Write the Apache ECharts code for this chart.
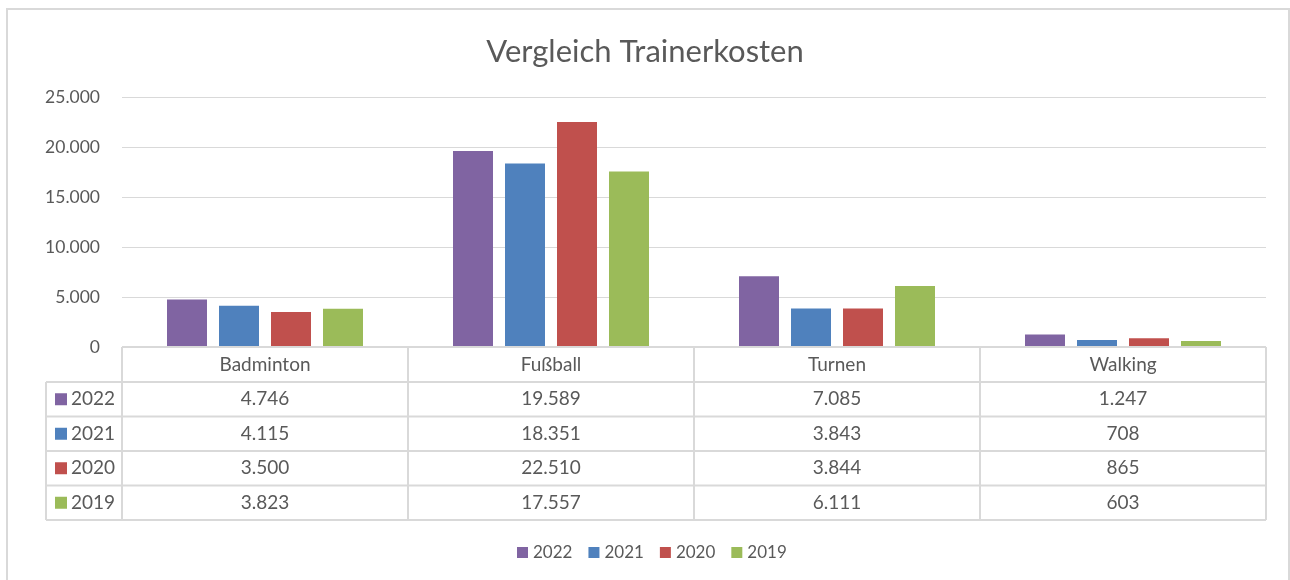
<!DOCTYPE html>
<html>
<head>
<meta charset="utf-8">
<script src="https://cdn.jsdelivr.net/npm/echarts@6/dist/echarts.min.js"></script>
<style>
  html, body { margin: 0; padding: 0; background: #fff; }
  #chart { width: 1290px; height: 580px; }
</style>
</head>
<body>
<div id="chart"></div>
<script>
// Daten
const categories = ['Badminton', 'Fußball', 'Turnen', 'Walking'];
const years = ['2022', '2021', '2020', '2019'];
const v2022 = [4746, 19589, 7085, 1247];
const v2021 = [4115, 18351, 3843, 708];
const v2020 = [3500, 22510, 3844, 865];
const v2019 = [3823, 17557, 6111, 603];
const yTicks = [0, 5000, 10000, 15000, 20000, 25000];

const colors = ['#8064A2', '#4F81BD', '#C0504D', '#9BBB59'];
const values = [v2022, v2021, v2020, v2019];
const textColor = '#595959';
const lineColor = '#D9D9D9';
const font = 'Lato, "Noto Sans", sans-serif';

// 1.234 statt 1,234
function fmt(n) {
  return String(n).replace(/\B(?=(\d{3})+(?!\d))/g, '.');
}

const chart = echarts.init(document.getElementById('chart'));

const options = {
  animation: false,
  textStyle: { fontFamily: font },
  title: {
    text: 'Vergleich Trainerkosten',
    left: 'center',
    top: 31,
    textStyle: { fontSize: 31, fontWeight: 'normal', color: textColor, fontFamily: font }
  },
  legend: {
    data: years,
    bottom: 14,
    left: 512,
    itemWidth: 11,
    itemHeight: 11,
    itemGap: 16,
    icon: 'rect',
    textStyle: { fontSize: 17, color: textColor, fontFamily: font }
  },
  grid: { left: 122, right: 24, top: 97, bottom: 233 },
  xAxis: {
    type: 'category',
    data: categories,
    axisLine: { show: false },
    axisTick: { show: false },
    axisLabel: { show: false }
  },
  yAxis: {
    type: 'value',
    min: yTicks[0],
    max: yTicks[yTicks.length - 1],
    interval: 5000,
    axisLine: { show: false },
    axisTick: { show: false },
    splitLine: { lineStyle: { color: lineColor, width: 1 } },
    axisLabel: {
      formatter: v => fmt(v),
      fontSize: 17.5,
      color: textColor,
      margin: 22,
      fontFamily: font
    }
  },
  series: years.map((y, i) => ({
    name: y,
    type: 'bar',
    data: values[i],
    barWidth: 40,
    barGap: '30%',
    itemStyle: { color: colors[i] }
  }))
};

chart.setOption(options);

// Datentabelle unter der Achse
function buildTable() {
  const c0 = chart.convertToPixel({ xAxisIndex: 0 }, 0);
  const c1 = chart.convertToPixel({ xAxisIndex: 0 }, 1);
  const band = c1 - c0;
  const left = c0 - band / 2;
  const right = left + band * categories.length;
  const top = chart.convertToPixel({ yAxisIndex: 0 }, 0);
  const headH = 35;
  const rowH = 34.5;
  const legLeft = 46;
  const bottom = top + headH + rowH * years.length;
  const els = [];
  const line = (x1, y1, x2, y2) => els.push({
    type: 'line', shape: { x1, y1, x2, y2 },
    style: { stroke: lineColor, lineWidth: 2 }, z: 10
  });
  const txt = (x, y, t, align) => els.push({
    type: 'text', x, y,
    style: { text: t, fill: textColor, font: '19px ' + font, align: align || 'center', verticalAlign: 'middle' },
    z: 11
  });

  // horizontale Linien
  line(left, top, right, top);
  for (let r = 0; r <= years.length; r++) {
    const y = top + headH + rowH * r;
    line(legLeft, y, right, y);
  }
  // vertikale Linien
  line(legLeft, top + headH, legLeft, bottom);
  for (let c = 0; c <= categories.length; c++) {
    const x = left + band * c;
    line(x, top, x, bottom);
  }
  // Kopfzeile
  categories.forEach((cat, c) => txt(left + band * (c + 0.5), top + headH / 2, cat));
  // Zeilen
  years.forEach((yr, r) => {
    const yc = top + headH + rowH * (r + 0.5);
    els.push({
      type: 'rect', shape: { x: legLeft + 9, y: yc - 6, width: 12, height: 12 },
      style: { fill: colors[r] }, z: 11
    });
    txt(legLeft + 25, yc, yr, 'left');
    values[r].forEach((v, c) => txt(left + band * (c + 0.5), yc, fmt(v)));
  });
  // Rahmen des Diagramms
  els.push({
    type: 'rect', shape: { x: 7, y: 9, width: 1282, height: 580 },
    style: { fill: 'none', stroke: '#D9D9D9', lineWidth: 2 }, z: 0
  });
  chart.setOption({ graphic: els });
}
buildTable();
</script>
</body>
</html>
